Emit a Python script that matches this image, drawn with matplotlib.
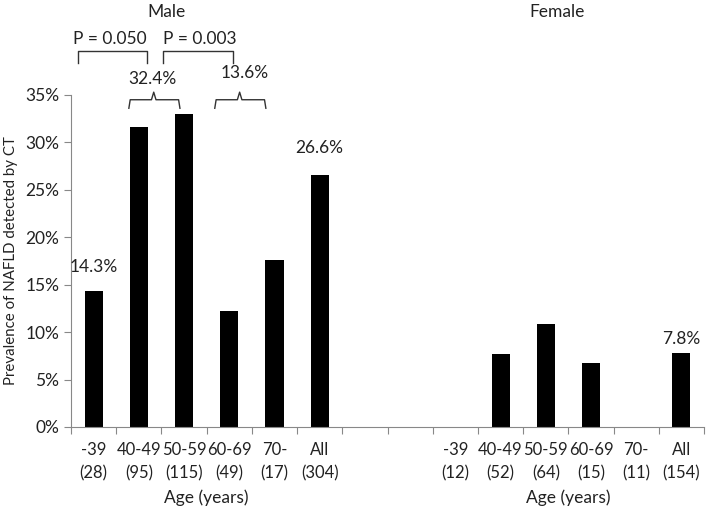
import matplotlib.pyplot as plt
import numpy as np

plt.rcParams['font.family'] = ['Lato', 'DejaVu Sans']

age_groups = ["-39", "40-49", "50-59", "60-69", "70-", "All"]
male_n = ["28", "95", "115", "49", "17", "304"]
female_n = ["12", "52", "64", "15", "11", "154"]
male_prev = [14.3, 31.6, 33.0, 12.2, 17.6, 26.6]
female_prev = [0.0, 7.7, 10.9, 6.7, 0.0, 7.8]
yticks = [0, 5, 10, 15, 20, 25, 30, 35]

male_x = np.arange(6)
female_x = np.arange(6) + 8

fs = 12.5
tc = "#222222"

fig = plt.figure(figsize=(7.09, 5.11), dpi=100)
ax = fig.add_axes([0.1001, 0.1644, 0.8929, 0.6497])

ax.bar(male_x, male_prev, width=0.4, color="black")
ax.bar(female_x, female_prev, width=0.4, color="black")

ax.set_xlim(-0.5, 13.5)
ax.set_ylim(0, 35)
ax.set_yticks(yticks)
ax.set_yticklabels([f"{v}%" for v in yticks], fontsize=fs, color=tc)
ax.set_ylabel("Prevalence of NAFLD detected by CT", fontsize=10.8, color=tc, labelpad=5)

# boundaries as ticks, labels at centres
ax.set_xticks(np.arange(-0.5, 14, 1))
ax.set_xticklabels([])
lab_x = list(male_x) + list(female_x)
lab_t = [f"{a}\n({n})" for a, n in zip(age_groups, male_n)] + \
        [f"{a}\n({n})" for a, n in zip(age_groups, female_n)]
ax.set_xticks(lab_x, minor=True)
ax.set_xticklabels(lab_t, minor=True, fontsize=12, color=tc, linespacing=1.55)
ax.tick_params(axis="x", which="minor", length=0, pad=11)
ax.tick_params(axis="x", which="major", length=5, color="#888888")
ax.tick_params(axis="y", length=5, color="#888888")

for s in ["top", "right"]:
    ax.spines[s].set_visible(False)
for s in ["left", "bottom"]:
    ax.spines[s].set_color("#888888")

# group labels
ax.text(2.5, -0.214, "Age (years)", transform=ax.get_xaxis_transform(),
        ha="center", va="center", fontsize=fs, color=tc)
ax.text(10.5, -0.214, "Age (years)", transform=ax.get_xaxis_transform(),
        ha="center", va="center", fontsize=fs, color=tc)
ax.text(1.62, 43.8, "Male", ha="center", va="center", fontsize=fs, color=tc, clip_on=False)
ax.text(10.24, 43.8, "Female", ha="center", va="center", fontsize=fs, color=tc, clip_on=False)

# value labels
ax.text(0, 16.9, "14.3%", ha="center", va="center", fontsize=fs, color=tc)
ax.text(5, 29.4, "26.6%", ha="center", va="center", fontsize=fs, color=tc)
ax.text(13, 9.3, "7.8%", ha="center", va="center", fontsize=fs, color=tc)

# p-value brackets
lc = "#333333"
for x0, x1, txt, tx in [(-0.35, 1.18, "P = 0.050", 0.36), (1.53, 3.08, "P = 0.003", 2.35)]:
    ax.plot([x0, x0, x1, x1], [38.4, 39.6, 39.6, 38.4], color=lc, lw=1, clip_on=False)
    ax.text(tx, 40.9, txt, ha="center", va="center", fontsize=fs, color=tc, clip_on=False)

# curly braces
for x0, x1, xm, txt, tx, ty in [(0.78, 1.91, 1.33, "32.4%", 1.31, 36.7),
                                (2.68, 3.81, 3.23, "13.6%", 3.35, 37.3)]:
    ax.plot([x0, x0 + 0.03, xm - 0.05, xm, xm + 0.05, x1 - 0.03, x1],
            [33.6, 34.5, 34.5, 35.3, 34.5, 34.5, 33.6], color=lc, lw=1, clip_on=False)
    ax.text(tx, ty, txt, ha="center", va="center", fontsize=fs, color=tc, clip_on=False)

fig.savefig("out.png", dpi=100)
